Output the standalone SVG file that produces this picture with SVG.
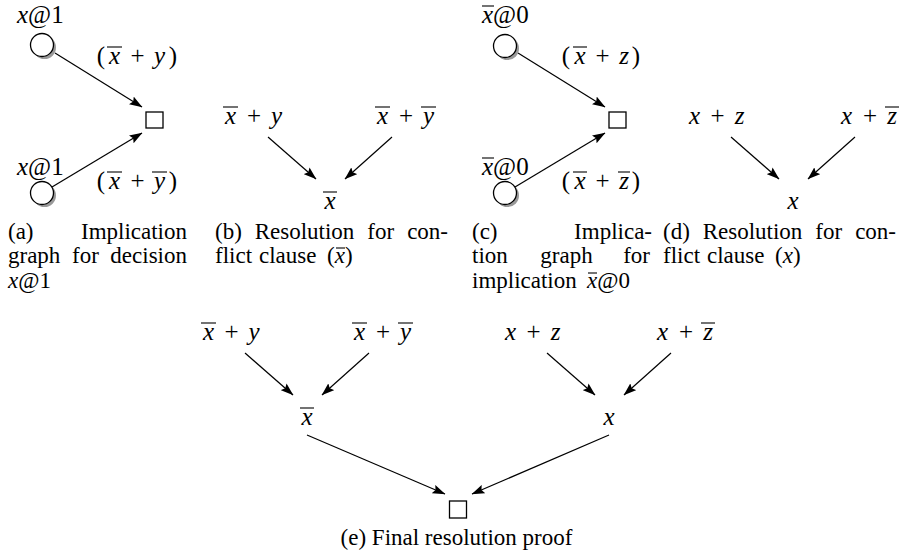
<svg xmlns="http://www.w3.org/2000/svg" width="908" height="557" viewBox="0 0 908 557">
<style>
.m{font-family:"Liberation Serif","Times New Roman",serif;font-size:25px;text-anchor:middle;fill:#000}
.s{text-anchor:start}
.c{font-family:"Liberation Serif","Times New Roman",serif;font-size:23px;fill:#000}
.e{text-anchor:end}
.mid{text-anchor:middle}
.i{font-style:italic}
.ol{stroke:#000;stroke-width:1.1}
.edge{stroke:#000;stroke-width:1.2;fill:none;marker-end:url(#ah)}
.v{fill:#fff;stroke:#000;stroke-width:1.3}
.sh{fill:#999}
.box{fill:#fff;stroke:#000;stroke-width:1.3}
</style>
<defs>
<marker id="ah" viewBox="0 0 13 9" refX="12.5" refY="4.5" markerWidth="13" markerHeight="9" orient="auto" markerUnits="userSpaceOnUse">
<path d="M0,0 L13,4.5 L0,9 L2.2,4.5 z" fill="#000"/>
</marker>
</defs>

<g id="connectors">
<line class="edge" x1="55" y1="53" x2="142" y2="107"/>
<line class="edge" x1="52" y1="187" x2="142" y2="133"/>
<line class="edge" x1="268" y1="137" x2="316" y2="179"/>
<line class="edge" x1="392" y1="137" x2="345" y2="179"/>
<line class="edge" x1="518" y1="53" x2="605" y2="107"/>
<line class="edge" x1="515" y1="187" x2="605" y2="133"/>
<line class="edge" x1="731" y1="137" x2="779" y2="179"/>
<line class="edge" x1="855" y1="137" x2="808" y2="179"/>
<line class="edge" x1="245" y1="353" x2="293" y2="395"/>
<line class="edge" x1="369" y1="353" x2="322" y2="395"/>
<line class="edge" x1="547" y1="353" x2="595" y2="395"/>
<line class="edge" x1="671" y1="353" x2="624" y2="395"/>
<line class="edge" x1="307" y1="435" x2="445" y2="494"/>
<line class="edge" x1="609" y1="435" x2="472" y2="494"/>
</g>

<!-- Panel (a) -->
<g id="a_v1">
<circle class="sh" cx="44.5" cy="47.5" r="11.5"/>
<circle class="v" cx="42" cy="45" r="11.5"/>
<text class="m s" x="17" y="23"><tspan class="i">x</tspan>@1</text>
</g>
<g id="a_c1">
<text class="m" y="64"><tspan x="101">(</tspan><tspan class="i" x="114.5">x</tspan><tspan x="137.5">+</tspan><tspan class="i" x="159.5">y</tspan><tspan x="173">)</tspan></text>
<line class="ol" x1="107" y1="47" x2="122" y2="47"/>
</g>
<g id="a_box"><rect class="box" x="146" y="112" width="17" height="16"/></g>
<g id="a_v2">
<circle class="sh" cx="44.5" cy="195.5" r="11.5"/>
<circle class="v" cx="42" cy="193" r="11.5"/>
<text class="m s" x="17" y="175"><tspan class="i">x</tspan>@1</text>
</g>
<g id="a_c2">
<text class="m" y="189"><tspan x="101">(</tspan><tspan class="i" x="114.5">x</tspan><tspan x="137.5">+</tspan><tspan class="i" x="159.5">y</tspan><tspan x="173">)</tspan></text>
<line class="ol" x1="107" y1="172" x2="122" y2="172"/>
<line class="ol" x1="152" y1="172" x2="167" y2="172"/>
</g>

<!-- Panel (b) -->
<g id="b_c1">
<text class="m" y="124"><tspan class="i" x="230.5">x</tspan><tspan x="254">+</tspan><tspan class="i" x="276.5">y</tspan></text>
<line class="ol" x1="223" y1="107" x2="238" y2="107"/>
</g>
<g id="b_c2">
<text class="m" y="124"><tspan class="i" x="382.5">x</tspan><tspan x="406">+</tspan><tspan class="i" x="428.5">y</tspan></text>
<line class="ol" x1="375" y1="107" x2="390" y2="107"/>
<line class="ol" x1="421" y1="107" x2="436" y2="107"/>
</g>
<g id="b_res">
<text class="m i" x="330" y="209">x</text>
<line class="ol" x1="323" y1="192" x2="337" y2="192"/>
</g>

<!-- Panel (c) -->
<g id="c_v1">
<circle class="sh" cx="507.5" cy="48.5" r="11.5"/>
<circle class="v" cx="505" cy="46" r="11.5"/>
<text class="m s" x="482" y="23"><tspan class="i">x</tspan>@0</text>
<line class="ol" x1="482" y1="6" x2="494" y2="6"/>
</g>
<g id="c_c1">
<text class="m" y="64"><tspan x="566">(</tspan><tspan class="i" x="580">x</tspan><tspan x="602.5">+</tspan><tspan class="i" x="624">z</tspan><tspan x="636">)</tspan></text>
<line class="ol" x1="573" y1="47" x2="587" y2="47"/>
</g>
<g id="c_box"><rect class="box" x="609" y="112" width="17" height="16"/></g>
<g id="c_v2">
<circle class="sh" cx="507.5" cy="195.5" r="11.5"/>
<circle class="v" cx="505" cy="193" r="11.5"/>
<text class="m s" x="482" y="175"><tspan class="i">x</tspan>@0</text>
<line class="ol" x1="482" y1="158" x2="494" y2="158"/>
</g>
<g id="c_c2">
<text class="m" y="189"><tspan x="566">(</tspan><tspan class="i" x="580">x</tspan><tspan x="602.5">+</tspan><tspan class="i" x="624">z</tspan><tspan x="636">)</tspan></text>
<line class="ol" x1="573" y1="172" x2="587" y2="172"/>
<line class="ol" x1="618" y1="172" x2="630" y2="172"/>
</g>

<!-- Panel (d) -->
<g id="d_c1">
<text class="m" y="124"><tspan class="i" x="694.5">x</tspan><tspan x="717.5">+</tspan><tspan class="i" x="739.5">z</tspan></text>
</g>
<g id="d_c2">
<text class="m" y="124"><tspan class="i" x="846.5">x</tspan><tspan x="870">+</tspan><tspan class="i" x="892">z</tspan></text>
<line class="ol" x1="885" y1="107" x2="899" y2="107"/>
</g>
<g id="d_res"><text class="m i" x="793" y="209">x</text></g>

<!-- Panel (e) -->
<g id="e_c1">
<text class="m" y="340"><tspan class="i" x="208.5">x</tspan><tspan x="231.5">+</tspan><tspan class="i" x="254">y</tspan></text>
<line class="ol" x1="201" y1="323" x2="216" y2="323"/>
</g>
<g id="e_c2">
<text class="m" y="340"><tspan class="i" x="359.5">x</tspan><tspan x="383">+</tspan><tspan class="i" x="405.5">y</tspan></text>
<line class="ol" x1="352" y1="323" x2="367" y2="323"/>
<line class="ol" x1="398" y1="323" x2="413" y2="323"/>
</g>
<g id="e_xbar">
<text class="m i" x="307" y="425">x</text>
<line class="ol" x1="300" y1="408" x2="314" y2="408"/>
</g>
<g id="e_c3">
<text class="m" y="340"><tspan class="i" x="510.5">x</tspan><tspan x="533.5">+</tspan><tspan class="i" x="555.5">z</tspan></text>
</g>
<g id="e_c4">
<text class="m" y="340"><tspan class="i" x="662.5">x</tspan><tspan x="686">+</tspan><tspan class="i" x="708">z</tspan></text>
<line class="ol" x1="701" y1="323" x2="715" y2="323"/>
</g>
<g id="e_x"><text class="m i" x="609" y="425">x</text></g>
<g id="e_box"><rect class="box" x="449.5" y="501" width="17" height="17"/></g>

<!-- Captions -->
<g id="captions">
<text class="c" x="8" y="239">(a)</text>
<text class="c e" x="187" y="239">Implication</text>
<text class="c" x="8" y="263">graph</text>
<text class="c" x="72" y="263">for</text>
<text class="c e" x="187" y="263">decision</text>
<text class="c" x="8" y="288"><tspan class="i">x</tspan>@1</text>

<text class="c" x="215" y="239">(b)</text>
<text class="c" x="254.7" y="239">Resolution</text>
<text class="c" x="367.3" y="239">for</text>
<text class="c e" x="448" y="239">con-</text>
<text class="c" x="215" y="263">flict</text>
<text class="c" x="259" y="263">clause</text>
<text class="c" x="327" y="263">(<tspan class="i">x</tspan>)</text>
<line class="ol" x1="336" y1="248" x2="345" y2="248"/>

<text class="c" x="472" y="239">(c)</text>
<text class="c e" x="652" y="239">Implica-</text>
<text class="c" x="472" y="263">tion</text>
<text class="c" x="540.3" y="263">graph</text>
<text class="c e" x="650" y="263">for</text>
<text class="c" x="472" y="288">implication</text>
<text class="c" x="587" y="288"><tspan class="i">x</tspan>@0</text>
<line class="ol" x1="588" y1="273" x2="597" y2="273"/>

<text class="c" x="663" y="239">(d)</text>
<text class="c" x="702.7" y="239">Resolution</text>
<text class="c" x="815.3" y="239">for</text>
<text class="c e" x="896" y="239">con-</text>
<text class="c" x="663" y="263">flict</text>
<text class="c" x="707" y="263">clause</text>
<text class="c" x="775" y="263">(<tspan class="i">x</tspan>)</text>

<text class="c mid" x="456.5" y="545">(e) Final resolution proof</text>
</g>
</svg>
